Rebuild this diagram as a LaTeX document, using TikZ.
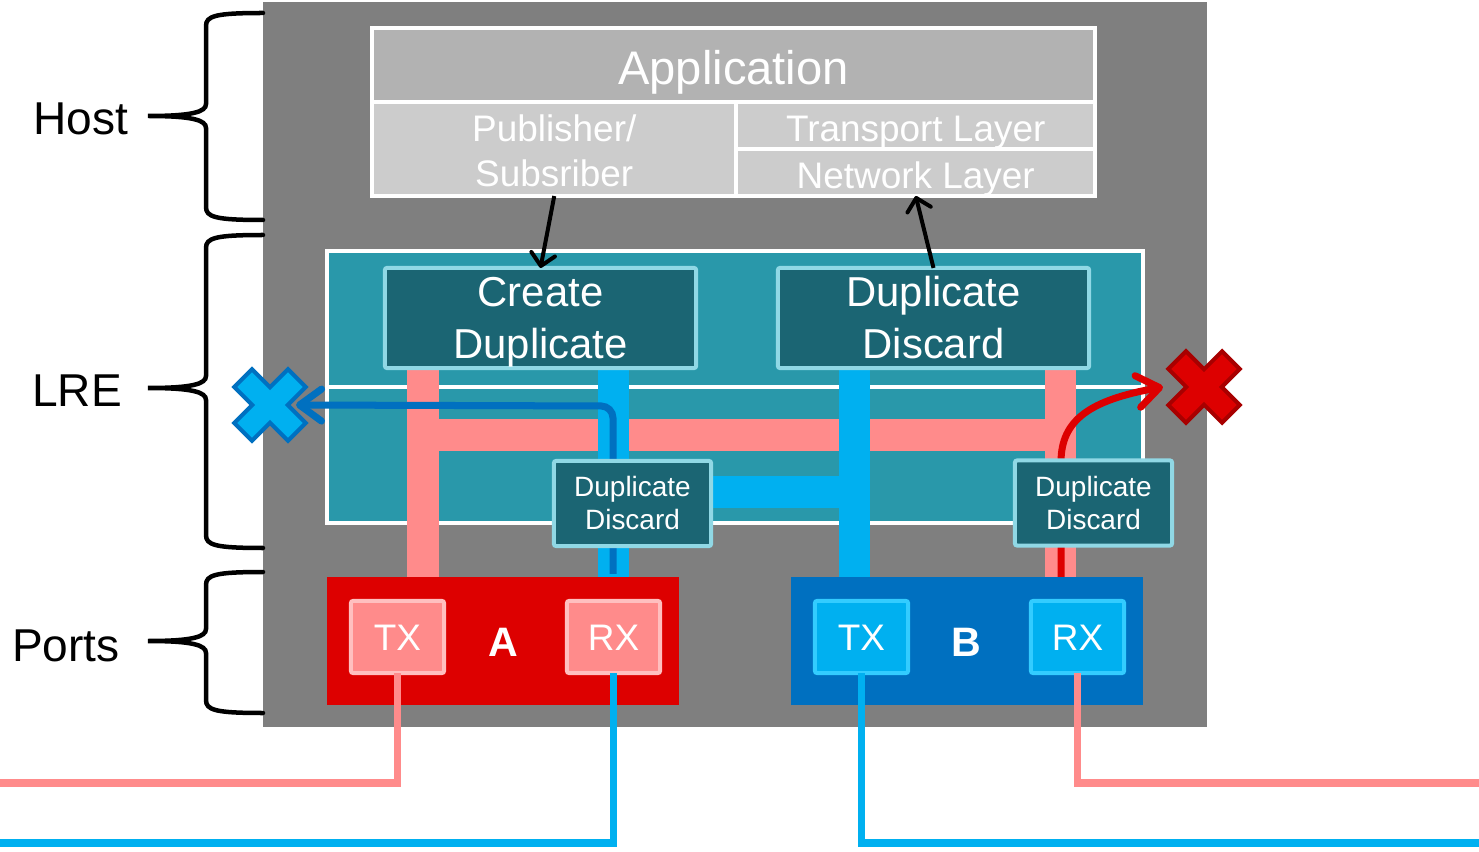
\documentclass[tikz,border=0pt]{standalone}
\usepackage{fontspec}
\setmainfont{Liberation Sans}
\usetikzlibrary{arrows.meta,calc}

\definecolor{hostgray}{HTML}{7F7F7F}
\definecolor{appgray}{HTML}{B2B2B2}
\definecolor{cellgray}{HTML}{CCCCCC}
\definecolor{lreteal}{HTML}{2998AA}
\definecolor{boxteal}{HTML}{1B6573}
\definecolor{boxedge}{HTML}{90D8E5}
\definecolor{txpink}{HTML}{FF8B8B}
\definecolor{pinkedge}{HTML}{FFBFBF}
\definecolor{lightblue}{HTML}{00B0F0}
\definecolor{blueedge}{HTML}{33CCFF}
\definecolor{darkblue}{HTML}{0070C0}
\definecolor{portred}{HTML}{DD0000}
\definecolor{darkred}{HTML}{A80000}

\pgfdeclarelayer{base}
\pgfdeclarelayer{mid}
\pgfsetlayers{base,mid,main}

\newcommand\fs[2]{\fontsize{#1}{#2}\selectfont}
% curly brace on the left: top y, tip y, bottom y
\newcommand\sidebrace[3]{%
  \draw[brace] (263,#1) .. controls (215,#1) and (206,{#1+3}) .. (206,{#1+13})
    -- (206,{#2-12}) .. controls (206,{#2-4}) and (192,#2) .. (148,#2)
    .. controls (192,#2) and (206,{#2+4}) .. (206,{#2+12})
    -- (206,{#3-13}) .. controls (206,{#3-3}) and (215,#3) .. (263,#3);}

\tikzset{
  crossmark/.pic={
    \path[pic actions] (12.5,12.5) -- (38,12.5) -- (38,-12.5) -- (12.5,-12.5)
      -- (12.5,-38) -- (-12.5,-38) -- (-12.5,-12.5) -- (-38,-12.5)
      -- (-38,12.5) -- (-12.5,12.5) -- (-12.5,38) -- (12.5,38) -- cycle;
  }
}

\begin{document}
\begin{tikzpicture}[x=0.01cm,y=-0.01cm,
  every node/.style={inner sep=0pt, outer sep=0pt},
  capsonly/.style={text height=#1, text depth=0pt},
  cell/.style={draw=white, line width=0.04cm, text=white},
  lrebox/.style={draw=boxedge, fill=boxteal, line width=0.04cm, text=white,
    align=center, rounded corners=0.02cm},
  bigfunc/.style={lrebox, minimum width=3.11cm, minimum height=1.0cm,
    font=\fs{11.9}{14.8}, capsonly=22.8pt},
  smallfunc/.style={lrebox, minimum width=1.57cm, minimum height=0.85cm,
    font=\fs{7.95}{9.4}, capsonly=15pt},
  port/.style={minimum width=3.52cm, minimum height=1.28cm},
  portunit/.style={line width=0.04cm, minimum width=0.93cm, minimum height=0.72cm,
    rounded corners=0.02cm, text=white, font=\fs{10.5}{12}, capsonly=7.5pt},
  bus/.style={line width=0.31cm},
  wire/.style={line width=0.075cm},
  signal/.style={line width=0.07cm, -{Straight Barb[length=0.22cm,width=0.32cm,round]}},
  flow/.style={line width=0.04cm, -{Straight Barb[length=0.12cm,width=0.24cm,round]}},
  brace/.style={line width=0.045cm, line cap=round},
  sidelabel/.style={font=\fs{13.1}{15}, capsonly=9.4pt},
]
\useasboundingbox (0,0) rectangle (1479,852);

% layer labels with braces
\sidebrace{13}{116}{220}
\sidebrace{235}{388}{548}
\sidebrace{572}{641}{713}
\node[sidelabel] (hostlbl) at (80.5,118) {Host};
\node[sidelabel] (lrelbl) at (77,390) {LRE};
\node[sidelabel] (portslbl) at (66,645) {Ports};

% host frame and the link redundancy entity
\begin{pgfonlayer}{base}
\node[fill=hostgray, minimum width=9.44cm, minimum height=7.25cm] (host) at (735,364.5) {};
\node[draw=white, fill=lreteal, line width=0.04cm, minimum width=8.16cm,
  minimum height=2.72cm] (lre) at (735,387) {};
\draw[white, line width=0.04cm] (lre.west) -- (lre.east);
\end{pgfonlayer}

% protocol stack
\node[cell, fill=appgray, minimum width=7.23cm, minimum height=0.74cm,
  font=\fs{13.4}{16}, capsonly=11pt] (app) at (733.5,65) {Application};
\node[cell, fill=cellgray, minimum width=3.645cm, minimum height=0.94cm, align=center,
  font=\fs{10.5}{12.8}, capsonly=21.6pt] (pub) at (554.25,149) {Publisher/\\Subsriber};
\node[cell, fill=cellgray, minimum width=3.585cm, minimum height=0.475cm,
  font=\fs{10.5}{12}, capsonly=9.2pt] (trans) at (915.75,125.75) {Transport Layer};
\node[cell, fill=cellgray, minimum width=3.585cm, minimum height=0.465cm,
  font=\fs{10.5}{12}, capsonly=9.0pt] (net) at (915.75,172.75) {Network Layer};

% LRE functions
\node[bigfunc] (cd) at (540.5,318) {Create\\Duplicate};
\node[bigfunc] (dd) at (933.5,318) {Duplicate\\Discard};
\node[smallfunc] (dsA) at (632.5,503.5) {Duplicate\\Discard};
\node[smallfunc] (dsB) at (1093.5,503) {Duplicate\\Discard};

% ports
\node[port, fill=portred] (pA) at (503,641) {};
\node[port, fill=darkblue] (pB) at (967,641) {};
\node[portunit, fill=txpink, draw=pinkedge] (txA) at (397.5,637) {TX};
\node[portunit, fill=txpink, draw=pinkedge] (rxA) at (613.5,637) {RX};
\node[portunit, fill=lightblue, draw=blueedge] (txB) at (861.5,637) {TX};
\node[portunit, fill=lightblue, draw=blueedge] (rxB) at (1077.5,637) {RX};
\node[font=\bfseries\fs{11.7}{14}, text=white, capsonly=8.4pt] (alabel) at (503,642) {A};
\node[font=\bfseries\fs{11.7}{14}, text=white, capsonly=8.4pt] (blabel) at (966,642) {B};

% dropped frames
\coordinate (xA) at (270,405);
\coordinate (xB) at (1204,387);
\pic[rotate=45, fill=lightblue, draw=darkblue, line width=0.04cm] at (xA) {crossmark};
\pic[rotate=45, fill=portred, draw=darkred, line width=0.04cm] at (xB) {crossmark};

% stack <-> LRE
\draw[flow] (pub.south) -- (cd.north);
\draw[flow] (dd.north) -- (net.south);

% internal frame paths
\coordinate (pl) at (423,435);
\coordinate (pr) at (1060,435);
\coordinate (br) at (854,492);
\coordinate (turnA) at (613,406);
\coordinate (bend) at (1061,462);
\begin{pgfonlayer}{mid}
\draw[bus, txpink] (cd.south -| pl) -- (pA.north -| pl);
\draw[bus, txpink] (dd.south -| pr) -- (pB.north -| pr);
\draw[bus, txpink] (pl) -- (pr);
\draw[bus, lightblue] (cd.south -| rxA) -- (pA.north -| rxA);
\draw[bus, lightblue] (dd.south -| br) -- (pB.north -| br);
\draw[bus, lightblue] (dsA.east |- br) -- (br);
\draw[signal, darkblue, rounded corners=0.12cm]
  ($(pA.north -| turnA)+(0,-3)$) -- (turnA) -- ([xshift=0.26cm]xA);
\draw[signal, portred] (pB.north -| bend) -- (bend)
  .. controls +(0,-42) and +(-73,13) .. ([xshift=-0.41cm]xB);
\end{pgfonlayer}

% external wires
\coordinate (wl1) at (0,783);
\coordinate (wl2) at (0,843);
\coordinate (wr1) at (1479,783);
\coordinate (wr2) at (1479,843);
\draw[wire, txpink] (txA.south) |- (wl1);
\draw[wire, lightblue] (rxA.south) |- (wl2);
\draw[wire, lightblue] (txB.south) |- (wr2);
\draw[wire, txpink] (rxB.south) |- (wr1);
\end{tikzpicture}
\end{document}
